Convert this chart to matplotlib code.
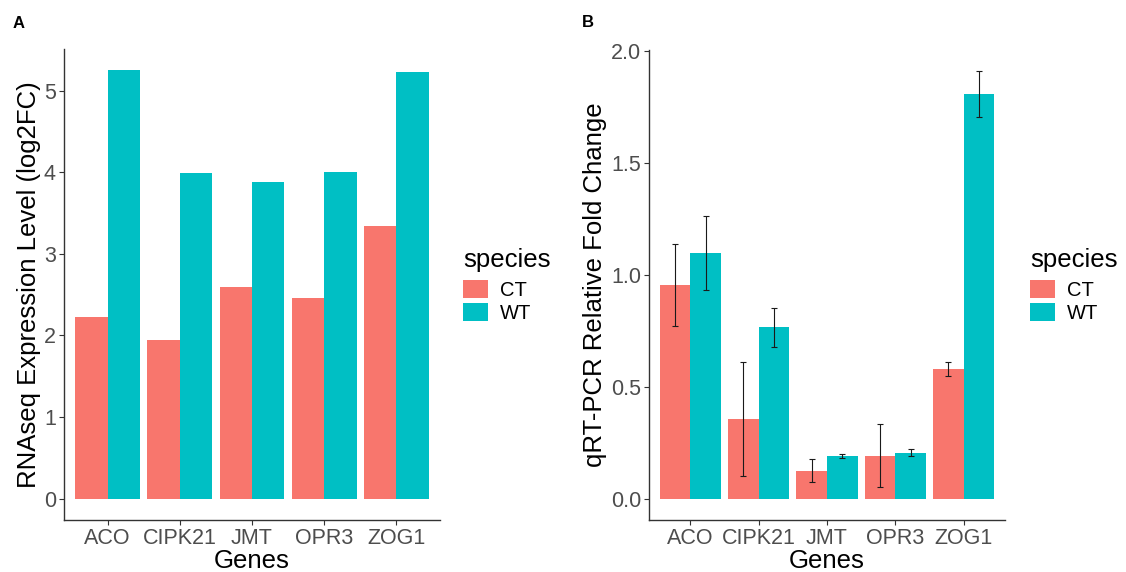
import numpy as np
import matplotlib.pyplot as plt
from matplotlib.patches import Patch

plt.rcParams['font.family'] = ['Liberation Sans', 'DejaVu Sans']

genes = ['ACO', 'CIPK21', 'JMT', 'OPR3', 'ZOG1']
species = ['CT', 'WT']
colors = ['#F8766D', '#00BFC4']

# panel A: RNAseq log2FC
rnaseq_ct = [2.23, 1.95, 2.60, 2.46, 3.34]
rnaseq_wt = [5.25, 3.99, 3.88, 4.01, 5.23]

# panel B: qRT-PCR relative fold change with error
qpcr_ct = [0.954, 0.357, 0.125, 0.192, 0.578]
qpcr_wt = [1.098, 0.765, 0.192, 0.205, 1.808]
qpcr_ct_err = [0.185, 0.255, 0.052, 0.140, 0.031]
qpcr_wt_err = [0.165, 0.087, 0.009, 0.015, 0.102]

W, H = 1126, 572
fig = plt.figure(figsize=(W / 100, H / 100), dpi=100)
axA = fig.add_axes([0.0571, 0.0909, 0.3334, 0.8234])
axB = fig.add_axes([0.5767, 0.0909, 0.3155, 0.8224])

x = np.arange(len(genes))
w = 0.45
tick_col = '#4D4D4D'


def style(ax, ylabel, ylab_x, leg_x):
    for s in ['top', 'right']:
        ax.spines[s].set_visible(False)
    for s in ['left', 'bottom']:
        ax.spines[s].set_color('#333333')
        ax.spines[s].set_linewidth(1.0)
    ax.set_xticks(x)
    ax.set_xticklabels(genes)
    ax.tick_params(axis='both', colors='#333333', labelcolor=tick_col,
                   labelsize=15.5, length=3.5, width=0.8, pad=2.5)
    ax.set_xlabel('Genes', fontsize=18.5, labelpad=0)
    ax.set_ylabel(ylabel, fontsize=18.5)
    ax.yaxis.set_label_coords(ylab_x, 0.5)
    ax.set_xlim(-0.6, 4.6)
    fig.text(leg_x / W, 1 - 257 / H, 'species', fontsize=18.5, va='center_baseline')
    ax.legend(handles=[Patch(facecolor=c, edgecolor='none', label=s)
                       for c, s in zip(colors, species)],
              frameon=False, loc='upper left',
              bbox_to_anchor=(leg_x / W, 1 - 280 / H), bbox_transform=fig.transFigure,
              borderpad=0, borderaxespad=0, fontsize=14.5,
              handlelength=1.24, handleheight=0.99, handletextpad=0.6,
              labelspacing=0.15)


axA.bar(x - w / 2, rnaseq_ct, w, color=colors[0])
axA.bar(x + w / 2, rnaseq_wt, w, color=colors[1])
axA.set_ylim(-0.2625, 5.5125)
axA.set_yticks([0, 1, 2, 3, 4, 5])
style(axA, 'RNAseq Expression Level (log2FC)', -0.062, 463)

axB.bar(x - w / 2, qpcr_ct, w, color=colors[0])
axB.bar(x + w / 2, qpcr_wt, w, color=colors[1])
axB.errorbar(x - w / 2, qpcr_ct, yerr=qpcr_ct_err, fmt='none', ecolor='#1a1a1a',
             elinewidth=0.8, capsize=2.5, capthick=0.8)
axB.errorbar(x + w / 2, qpcr_wt, yerr=qpcr_wt_err, fmt='none', ecolor='#1a1a1a',
             elinewidth=0.8, capsize=2.5, capthick=0.8)
axB.set_ylim(-0.0955, 2.0055)
axB.set_yticks([0.0, 0.5, 1.0, 1.5, 2.0])
axB.set_yticklabels(['0.0', '0.5', '1.0', '1.5', '2.0'])
style(axB, 'qRT-PCR Relative Fold Change', -0.119, 1030)

fig.text(13 / W, 1 - 23.5 / H, 'A', fontsize=12, fontweight='bold', va='center')
fig.text(582 / W, 1 - 22.5 / H, 'B', fontsize=12, fontweight='bold', va='center')

fig.savefig('out.png', dpi=100)
